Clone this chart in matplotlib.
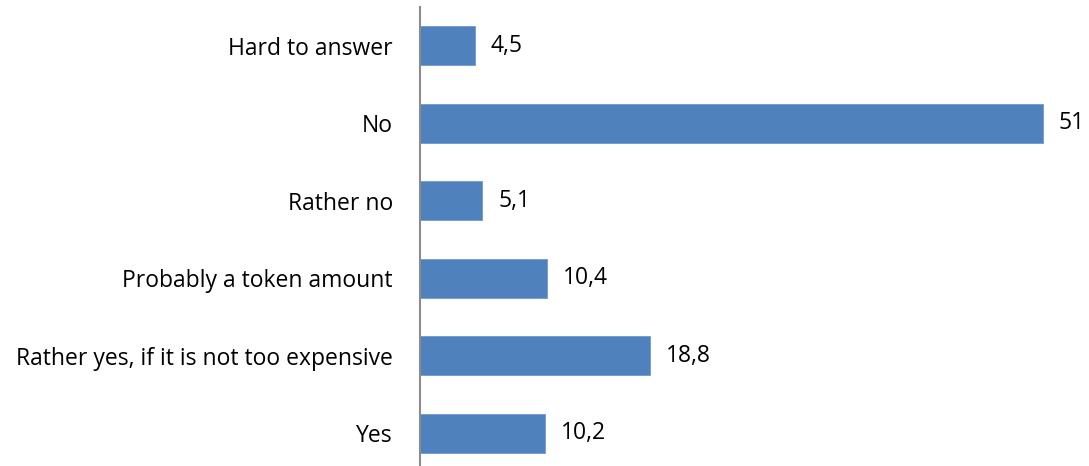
import matplotlib
matplotlib.use("Agg")
import matplotlib.pyplot as plt

categories = ["Hard to answer", "No", "Rather no", "Probably a token amount",
              "Rather yes, if it is not too expensive", "Yes"]
values = [4.5, 51, 5.1, 10.4, 18.8, 10.2]
value_labels = ["4,5", "51", "5,1", "10,4", "18,8", "10,2"]

plt.rcParams["font.family"] = ["Open Sans", "DejaVu Sans"]

W, H = 1089, 466
fig = plt.figure(figsize=(W / 100, H / 100), dpi=100)
ax = fig.add_axes([420 / W, -6 / H, 669 / W, 465 / H])

y = list(range(len(categories)))
ax.barh(y, values, height=0.5, color="#4F81BD", edgecolor="#6F9AD0", linewidth=0.6)
ax.set_ylim(len(categories) - 0.5, -0.5)
ax.set_xlim(0, 54.8)

for yi, v, lab in zip(y, values, value_labels):
    ax.annotate(lab, (v, yi), xytext=(16, 0), textcoords="offset pixels",
                va="center", ha="left", fontsize=16.5, color="black")

ax.set_yticks(y)
ax.set_yticklabels(categories, fontsize=16.5, color="black")
ax.tick_params(axis="y", length=0, pad=19.5)
ax.set_xticks([])
for s in ["top", "right", "bottom"]:
    ax.spines[s].set_visible(False)
ax.spines["left"].set_color("#8C8C8C")
ax.spines["left"].set_linewidth(1.5)

fig.savefig("out.png", dpi=100)
